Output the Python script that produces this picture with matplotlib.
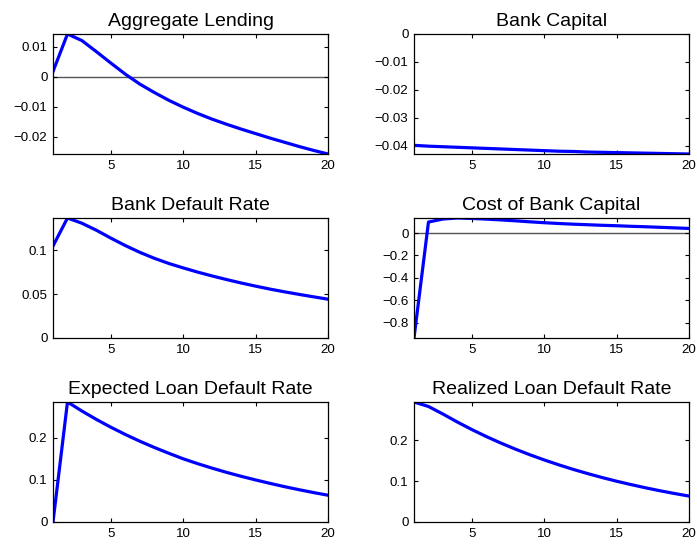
import numpy as np
import matplotlib
matplotlib.use('Agg')
import matplotlib.pyplot as plt
from matplotlib.ticker import MultipleLocator, FuncFormatter

plt.rcParams['font.family'] = ['Liberation Sans', 'DejaVu Sans']

# horizon (quarters)
periods = np.arange(1, 21)

aggregate_lending = [0.0017, 0.0142, 0.0120, 0.0083, 0.0045, 0.0008, -0.0025, -0.0053,
                     -0.0079, -0.0102, -0.0123, -0.0142, -0.0159, -0.0175, -0.0190,
                     -0.0205, -0.0219, -0.0233, -0.0246, -0.0258]
bank_capital = [-0.0398, -0.0401, -0.0403, -0.0405, -0.0407, -0.0409, -0.0411, -0.0413,
                -0.0415, -0.0417, -0.0419, -0.0420, -0.0422, -0.0423, -0.0424,
                -0.0425, -0.0426, -0.0427, -0.0428, -0.0429]
bank_default = [0.105, 0.137, 0.131, 0.123, 0.114, 0.1055, 0.0978, 0.0910, 0.0851, 0.0800,
                0.0752, 0.0708, 0.0667, 0.0628, 0.0592, 0.0558, 0.0527, 0.0498, 0.0470, 0.0443]
cost_of_capital = [-0.935, 0.098, 0.125, 0.134, 0.130, 0.124, 0.117, 0.109, 0.100, 0.092,
                   0.085, 0.079, 0.074, 0.069, 0.065, 0.060, 0.056, 0.051, 0.046, 0.041]
expected_default = [0.0, 0.285, 0.2635, 0.2435, 0.225, 0.2078, 0.1918, 0.177, 0.1632, 0.150,
                    0.1385, 0.1278, 0.1178, 0.1085, 0.0999, 0.0917, 0.0839, 0.0767, 0.0699, 0.0636]
realized_default = [0.294, 0.283, 0.2645, 0.2448, 0.2264, 0.2093, 0.1934, 0.1786, 0.1648, 0.1520,
                    0.1401, 0.1289, 0.1186, 0.1089, 0.0999, 0.0916, 0.0838, 0.0765, 0.0698, 0.0635]

titles = ['Aggregate Lending', 'Bank Capital', 'Bank Default Rate',
          'Cost of Bank Capital', 'Expected Loan Default Rate', 'Realized Loan Default Rate']
series = [aggregate_lending, bank_capital, bank_default,
          cost_of_capital, expected_default, realized_default]
y_steps = [0.01, 0.01, 0.05, 0.2, 0.1, 0.1]


def fmt(v, pos):
    s = '%g' % round(v, 6)
    if s == '-0':
        s = '0'
    return s.replace('-', '\u2212')


fig = plt.figure(figsize=(6.97, 5.44), dpi=100)

lefts = [53 / 697, 414 / 697]
width = 275 / 697
tops = [34, 218, 402]
height = 120 / 544

for i, (title, y, step) in enumerate(zip(titles, series, y_steps)):
    row, col = divmod(i, 2)
    ax = fig.add_axes([lefts[col], 1 - (tops[row] + 120) / 544, width, height])
    y = np.array(y)
    lo, hi = min(0, y.min()), max(0, y.max())
    if lo < 0 < hi:
        ax.axhline(0, color='#555555', lw=1.0, zorder=1)
    ax.plot(periods, y, color='#0000ff', lw=2.3, zorder=2)
    ax.set_xlim(1, 20)
    ax.set_ylim(lo, hi)
    ax.set_xticks([5, 10, 15, 20])
    ax.yaxis.set_major_locator(MultipleLocator(step))
    ax.yaxis.set_major_formatter(FuncFormatter(fmt))
    ax.tick_params(direction='in', top=True, right=True, length=3, width=0.8,
                   labelsize=9.6, pad=4)
    for sp in ax.spines.values():
        sp.set_linewidth(0.9)
    ax.set_title(title, fontsize=14, pad=6)

fig.savefig('out.png', dpi=100)
